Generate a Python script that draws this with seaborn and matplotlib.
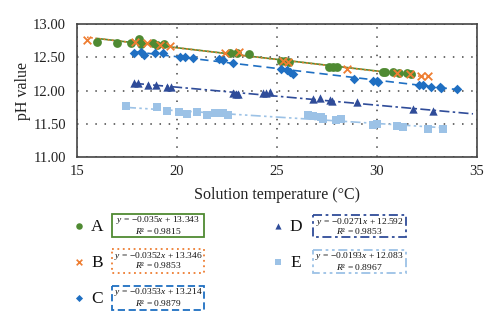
import numpy as np
import pandas as pd
import matplotlib
matplotlib.use("Agg")
import matplotlib.pyplot as plt
from matplotlib.patches import Rectangle
import seaborn as sns

# ---------------- data ----------------
series = ["A", "B", "C", "D", "E"]

a_x = [16.0, 17.0, 17.7, 18.1, 18.2, 18.8, 19.0, 19.35, 22.65, 23.0, 23.6,
       25.2, 25.4, 25.6, 27.6, 27.8, 28.0, 30.3, 30.4, 30.8, 31.1, 31.5, 31.7]
a_y = [12.73, 12.72, 12.72, 12.77, 12.70, 12.72, 12.68, 12.70, 12.56, 12.56, 12.55,
       12.44, 12.44, 12.43, 12.36, 12.36, 12.35, 12.28, 12.28, 12.28, 12.26, 12.26, 12.25]

b_x = [15.5, 17.9, 18.5, 19.15, 19.65, 22.4, 23.1, 25.3, 25.55, 28.5, 31.0,
       31.65, 32.2, 32.55]
b_y = [12.76, 12.73, 12.71, 12.68, 12.67, 12.56, 12.58, 12.44, 12.43, 12.32, 12.27,
       12.25, 12.22, 12.22]

c_x = [17.85, 18.2, 18.35, 18.9, 19.3, 20.15, 20.4, 20.8, 22.1, 22.3, 22.8,
       25.2, 25.5, 25.65, 25.8, 28.85, 29.8, 30.0, 30.05, 32.1, 32.3, 32.7,
       33.15, 33.2, 34.0]
c_y = [12.56, 12.58, 12.53, 12.56, 12.56, 12.51, 12.51, 12.49, 12.47, 12.46, 12.42,
       12.32, 12.31, 12.28, 12.25, 12.17, 12.15, 12.15, 12.13, 12.08, 12.08, 12.06,
       12.06, 12.04, 12.03]

d_x = [17.85, 18.05, 18.55, 18.95, 19.5, 19.7, 22.8, 22.95, 23.05, 24.3, 24.45,
       24.65, 26.8, 27.15, 27.65, 27.75, 29.0, 31.8, 32.8]
d_y = [12.12, 12.11, 12.08, 12.08, 12.06, 12.06, 11.96, 11.95, 11.94, 11.96, 11.96,
       11.97, 11.87, 11.88, 11.86, 11.84, 11.82, 11.72, 11.69]

e_x = [17.45, 18.98, 19.5, 20.1, 20.5, 21.0, 21.5, 21.9, 22.3, 22.55, 26.55,
       26.8, 27.2, 27.3, 27.95, 28.2, 29.8, 30.0, 31.0, 31.3, 32.55, 33.3]
e_y = [11.76, 11.75, 11.69, 11.68, 11.65, 11.67, 11.63, 11.66, 11.66, 11.63, 11.63,
       11.61, 11.60, 11.57, 11.56, 11.57, 11.48, 11.50, 11.46, 11.45, 11.42, 11.42]

slopes = [-0.035, -0.0352, -0.0353, -0.0271, -0.0193]
intercepts = [13.343, 13.346, 13.214, 12.592, 12.083]
r2 = ["0.9815", "0.9853", "0.9879", "0.9853", "0.8967"]
trend_end = [31.7, 32.55, 34.0, 34.8, 33.3]

x_ticks = [15, 20, 25, 30, 35]
y_ticks = [11.0, 11.5, 12.0, 12.5, 13.0]

# ---------------- styles ----------------
colors = {"A": "#4f8a32", "B": "#ee7d31", "C": "#1f6fc2", "D": "#2f4c99", "E": "#9cc2e6"}
markers = {"A": "o", "B": "x", "C": "D", "D": "^", "E": "s"}
sizes = {"A": 40, "B": 30, "C": 24, "D": 36, "E": 38}
line_styles = {"A": "-", "B": (0, (1, 1.5)), "C": (0, (5, 3)),
               "D": (0, (6, 2, 1.5, 2)), "E": (0, (6, 2, 1.5, 2, 1.5, 2))}

xs = [a_x, b_x, c_x, d_x, e_x]
ys = [a_y, b_y, c_y, d_y, e_y]
df = pd.concat([pd.DataFrame({"temp": x, "ph": y, "series": s})
                for s, x, y in zip(series, xs, ys)], ignore_index=True)

sns.set_theme(style="white")
plt.rcParams["font.family"] = ["Liberation Serif", "DejaVu Serif"]
plt.rcParams["mathtext.fontset"] = "custom"
plt.rcParams["mathtext.rm"] = "Liberation Serif"
plt.rcParams["mathtext.it"] = "Liberation Serif:italic"

fig = plt.figure(figsize=(5.0, 3.28), dpi=100)
ax = fig.add_axes([77 / 500, 1 - 157 / 328, 400 / 500, 133 / 328])

# trend lines
for i, s in enumerate(series):
    x0 = min(xs[i])
    xl = np.linspace(x0, trend_end[i], 50)
    ax.plot(xl, slopes[i] * xl + intercepts[i], color=colors[s],
            ls=line_styles[s], lw=1.2, zorder=2)

for s in series:
    sub = df[df["series"] == s]
    kw = dict(linewidth=1.3) if s == "B" else dict(linewidth=0)
    sns.scatterplot(data=sub, x="temp", y="ph", ax=ax, color=colors[s],
                    marker=markers[s], s=sizes[s], legend=False, zorder=3, **kw)

ax.set_xlim(15, 35)
ax.set_ylim(11, 13)
ax.set_xticks(x_ticks)
ax.set_yticks(y_ticks)
ax.set_yticklabels([f"{v:.2f}" for v in y_ticks])
ax.tick_params(length=0, labelsize=10.5, colors="#222222")
ax.tick_params(axis="y", pad=8)
ax.tick_params(axis="x", pad=6)
ax.grid(True, color="#444444", linestyle=(0, (1, 5)), linewidth=1.1)
for sp in ax.spines.values():
    sp.set_color("#444444")
    sp.set_linewidth(1.2)
ax.set_xlabel("Solution temperature (°C)", fontsize=11.5, color="#222222", labelpad=6)
ax.set_ylabel("pH value", fontsize=11.5, color="#222222", labelpad=1)

# ---------------- custom legend ----------------
lax = fig.add_axes([0, 0, 1, 1])
lax.set_xlim(0, 500)
lax.set_ylim(328, 0)
lax.axis("off")

legend_pos = {"A": (79, 226, 112, 214, 204, 237),
              "B": (79, 262, 112, 249, 204, 273),
              "C": (79, 298, 112, 286, 204, 310),
              "D": (278, 226, 313, 215, 406, 237),
              "E": (278, 262, 313, 250, 406, 273)}
box_styles = {"A": "-", "B": (0, (1, 2)), "C": (0, (4, 2)),
              "D": (0, (5, 2, 1.5, 2)), "E": (0, (5, 2, 1.5, 2, 1.5, 2))}

for i, s in enumerate(series):
    mx, my, bx0, by0, bx1, by1 = legend_pos[s]
    lax.scatter([mx], [my], marker=markers[s], color=colors[s],
                s=sizes[s] * 0.55, linewidths=1.2 if s == "B" else 0)
    lax.text(mx + 18, my + 1, s, fontsize=12.5, ha="center", va="center", color="#111111")
    lax.add_patch(Rectangle((bx0, by0), bx1 - bx0, by1 - by0, fill=False,
                            edgecolor=colors[s], lw=1.3, ls=box_styles[s]))
    cx = (bx0 + bx1) / 2
    sign = "\u2212" if slopes[i] < 0 else ""
    eq = f"$y$ = {sign}{abs(slopes[i]):g}$x$ + {intercepts[i]:.3f}"
    lax.text(cx, by0 + 6.5, eq, fontsize=6.8, ha="center", va="center", color="#111111")
    lax.text(cx, by0 + 16.5, f"$R$\u00b2 = {r2[i]}", fontsize=6.8, ha="center",
             va="center", color="#111111")

fig.savefig("out.png", dpi=100)
